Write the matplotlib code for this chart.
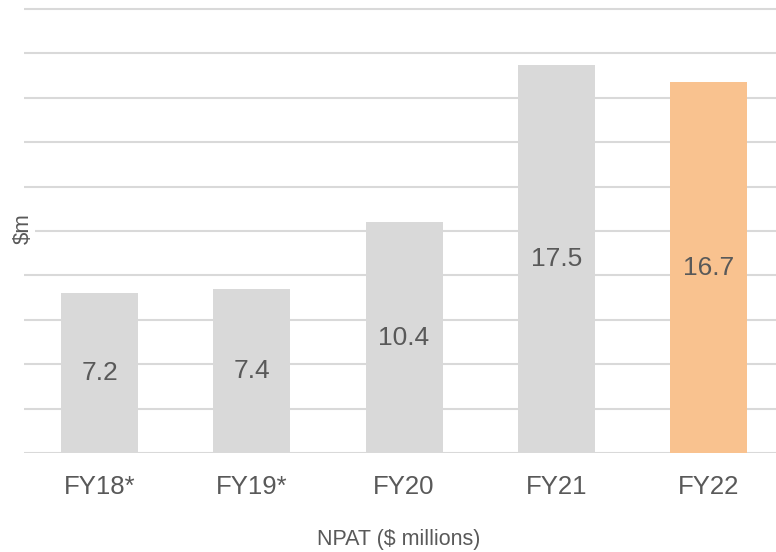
import matplotlib
matplotlib.use("Agg")
import matplotlib.pyplot as plt

# NPAT by financial year ($m)
years = ["FY18*", "FY19*", "FY20", "FY21", "FY22"]
npat = [7.2, 7.4, 10.4, 17.5, 16.7]
colors = ["#d9d9d9", "#d9d9d9", "#d9d9d9", "#d9d9d9", "#f9c28f"]

TXT = "#595959"
plt.rcParams["font.family"] = ["Liberation Sans", "DejaVu Sans"]

fig = plt.figure(figsize=(7.76, 5.52), dpi=100)
ax = fig.add_axes([24/776, 99/552, 752/776, 448.4/552])

x = range(len(years))
ax.bar(x, npat, width=0.506, color=colors, zorder=2)
for xi, v in zip(x, npat):
    ax.text(xi, v/2, f"{v:.1f}", ha="center", va="center", fontsize=19, color=TXT, zorder=3)

ax.set_xlim(-0.496, 4.443)
ax.set_ylim(0, 20.2)
ax.set_yticks(range(0, 21, 2))
ax.yaxis.grid(True, color="#d9d9d9", lw=1.5, zorder=0)
ax.tick_params(axis="y", left=False, labelleft=False)
ax.set_xticks(list(x))
ax.set_xticklabels(years, fontsize=18.5, color=TXT)
ax.tick_params(axis="x", bottom=False, pad=12)
for s in ax.spines.values():
    s.set_visible(False)

fig.text(23/776, 1 - 229/552, "$m", rotation=90, ha="center", va="center", fontsize=16, color=TXT,
         bbox=dict(facecolor="white", edgecolor="none", pad=1), zorder=5)
fig.text(399/776, 1 - 539/552, "NPAT ($ millions)", ha="center", va="center", fontsize=15.5, color=TXT)

fig.savefig("out.png", dpi=100)
